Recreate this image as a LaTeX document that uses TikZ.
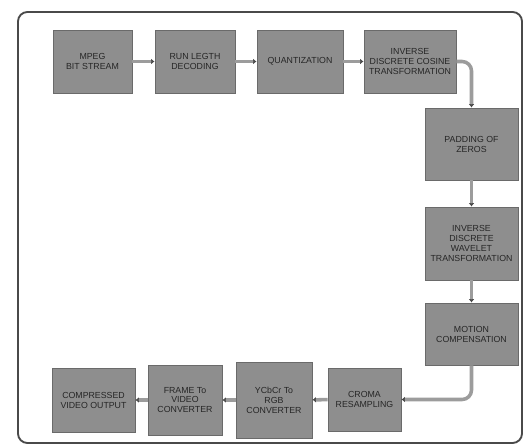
\documentclass[tikz,border=0pt]{standalone}
\usepackage{fontspec}
\setmainfont{Liberation Sans}
\usepackage{tikz}
\usetikzlibrary{arrows.meta, positioning}

\definecolor{boxgray}{HTML}{8E8E8E}
\definecolor{edgegray}{HTML}{6A6A6A}
\definecolor{linkgray}{HTML}{9C9C9C}
\definecolor{framegray}{HTML}{4A4A4A}

\begin{document}
\begin{tikzpicture}[
    x=0.03cm, y=-0.03cm,
    block/.style={draw=edgegray, fill=boxgray, line width=0.8pt, align=center,
        inner sep=1pt, font=\fontsize{7.5}{8.5}\selectfont\color{black!85}},
    link/.style={draw=linkgray, line width=3pt, rounded corners=8pt,
        -{Latex[length=3pt, width=5pt, color=framegray]}},
    >=Latex
]
\useasboundingbox (0,0) rectangle (527,448);

% outer frame
\draw[framegray, line width=1.6pt, rounded corners=8pt] (18,12) rectangle (522,443);

% top row
\node[block, minimum width=2.37cm, minimum height=1.89cm] (mpeg) at (92.5,61.5) {MPEG\\BIT STREAM};
\node[block, minimum width=2.4cm, minimum height=1.89cm] (rld) at (195,61.5) {RUN LEGTH\\DECODING};
\node[block, minimum width=2.58cm, minimum height=1.89cm] (quant) at (300,61.5) {QUANTIZATION};
\node[block, minimum width=2.76cm, minimum height=1.89cm] (idct) at (410,61.5) {INVERSE\\DISCRETE COSINE\\TRANSFORMATION};

% right column
\node[block, minimum width=2.79cm, minimum height=2.16cm] (pad) at (471.5,144) {PADDING OF\\ZEROS};
\node[block, minimum width=2.79cm, minimum height=2.19cm] (idwt) at (471.5,243.5) {INVERSE\\DISCRETE\\WAVELET\\TRANSFORMATION};
\node[block, minimum width=2.79cm, minimum height=1.86cm] (motion) at (471.5,334) {MOTION\\COMPENSATION};

% bottom row
\node[block, minimum width=2.19cm, minimum height=1.89cm] (croma) at (364.5,399.5) {CROMA\\RESAMPLING};
\node[block, minimum width=2.28cm, minimum height=2.28cm] (ycc) at (274,400) {YCbCr To\\RGB\\CONVERTER};
\node[block, minimum width=2.22cm, minimum height=2.1cm] (frame) at (185,400) {FRAME To\\VIDEO\\CONVERTER};
\node[block, minimum width=2.49cm, minimum height=1.92cm] (comp) at (93.5,400) {COMPRESSED\\VIDEO OUTPUT};

% connectors
\draw[link] (mpeg) -- (rld);
\draw[link] (rld) -- (quant);
\draw[link] (quant) -- (idct);
\draw[link] (idct.east) -| (pad.north);
\draw[link] (pad) -- (idwt);
\draw[link] (idwt) -- (motion);
\draw[link] (motion.south) |- (croma.east);
\draw[link] (croma) -- (ycc);
\draw[link] (ycc) -- (frame);
\draw[link] (frame) -- (comp);

\end{tikzpicture}
\end{document}
